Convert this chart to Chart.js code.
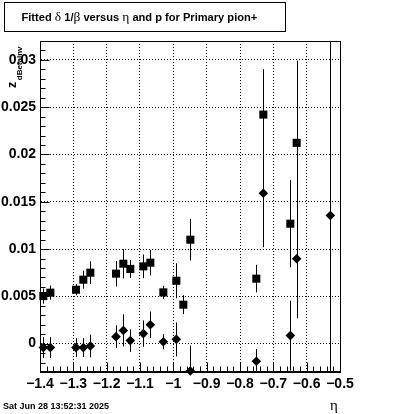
<!DOCTYPE html>
<html><head><meta charset="utf-8">
<script src="https://cdn.jsdelivr.net/npm/chart.js@4/dist/chart.umd.min.js"></script>
<style>html,body{margin:0;padding:0;background:#fff}#wrap{width:400px;height:414px;position:relative}</style>
</head><body><div id="wrap"><canvas id="c" width="400" height="414"></canvas></div>
<script>
// ---- data ----
const etaSquares = [-1.390,-1.369,-1.292,-1.270,-1.249,-1.172,-1.150,-1.129,-1.090,-1.069,-1.030,-0.991,-0.970,-0.949,-0.751,-0.730,-0.649,-0.630];
const zSquares   = [0.00503,0.00539,0.00570,0.00676,0.00750,0.00740,0.00845,0.00790,0.00817,0.00856,0.00542,0.00665,0.00412,0.01099,0.00687,0.02422,0.01268,0.02123];
const errSquares = [0.0008,0.00075,0.0006,0.00095,0.0012,0.00135,0.00155,0.00095,0.00125,0.00135,0.0007,0.00185,0.0010,0.0022,0.00146,0.0048,0.0046,0.0087];
const etaDiamonds = [-1.390,-1.369,-1.292,-1.270,-1.249,-1.172,-1.150,-1.129,-1.090,-1.069,-1.030,-0.991,-0.949,-0.751,-0.730,-0.649,-0.630,-0.529];
const zDiamonds   = [-0.00042,-0.00042,-0.00042,-0.00042,-0.00025,0.00074,0.0014,0.00032,0.00106,0.0020,0.0002,0.00045,-0.0029,-0.00187,0.0159,0.00085,0.00898,0.01355];
const errDiamonds = [0.0011,0.0011,0.0010,0.0010,0.0012,0.0012,0.0017,0.0012,0.0014,0.0014,0.0008,0.0018,0.0027,0.0013,0.0057,0.0037,0.0063,0.030];
const xTickValues = [-1.4,-1.3,-1.2,-1.1,-1.0,-0.9,-0.8,-0.7,-0.6,-0.5];
const xTickLabels = ['\u22121.4','\u22121.3','\u22121.2','\u22121.1','\u22121','\u22120.9','\u22120.8','\u22120.7','\u22120.6','\u22120.5'];
const yTickValues = [0,0.005,0.01,0.015,0.02,0.025,0.03];
const yTickLabels = ['0','0.005','0.01','0.015','0.02','0.025','0.03'];
const titleParts = [['Fitted ','b'],['\u03b4','g'],[' 1/','b'],['\u03b2','g'],[' versus ','b'],['\u03b7','g'],[' and p for Primary pion+','b']];
const xTitle = '\u03b7';
const yTitleMain = 'z';
const yTitleSub = 'dBetaInv';
const dateText = 'Sat Jun 28 13:52:31 2025';

const X_MIN = -1.4, X_MAX = -0.5, Y_MIN = -0.003, Y_MAX = 0.032;
const SANS = "'Liberation Sans', Arial, sans-serif";
const SERIF = "'Liberation Serif', 'DejaVu Serif', serif";

function mkPoints(xs, ys){ return xs.map((x,i)=>({x:x, y:ys[i]})); }

const errorBars = {
  id:'errorBars',
  beforeDatasetsDraw(chart){
    const ctx = chart.ctx, ca = chart.chartArea, ys = chart.scales.y;
    const errs = [errSquares, errDiamonds], vals = [zSquares, zDiamonds];
    ctx.save();
    ctx.beginPath(); ctx.rect(ca.left, ca.top, ca.right-ca.left, ca.bottom-ca.top); ctx.clip();
    ctx.strokeStyle = '#000'; ctx.lineWidth = 1;
    for (let d=0; d<2; d++){
      const meta = chart.getDatasetMeta(d);
      meta.data.forEach((pt,i)=>{
        const x = Math.round(pt.x)+0.5;
        const y1 = ys.getPixelForValue(vals[d][i]-errs[d][i]);
        const y2 = ys.getPixelForValue(vals[d][i]+errs[d][i]);
        ctx.beginPath(); ctx.moveTo(x,y1); ctx.lineTo(x,y2); ctx.stroke();
      });
    }
    ctx.restore();
  }
};

const frameAndText = {
  id:'frameAndText',
  afterDraw(chart){
    const ctx = chart.ctx, ca = chart.chartArea, xs = chart.scales.x, ys = chart.scales.y;
    ctx.save();
    ctx.strokeStyle = '#000'; ctx.lineWidth = 1;
    const L = Math.round(ca.left)+0.5, R = Math.round(ca.right)+0.5, T = Math.round(ca.top)+0.5, B = Math.round(ca.bottom)-0.5;
    ctx.strokeRect(L, T, R-L, B-T);
    // x ticks (major + minor) inside frame
    ctx.beginPath();
    for (let k=0; k<=45; k++){
      const v = X_MIN + k*0.02;
      const px = Math.round(xs.getPixelForValue(v))+0.5;
      const len = (k%5===0) ? 9 : 5;
      ctx.moveTo(px, B); ctx.lineTo(px, B-len);
    }
    // y ticks
    for (let k=-3; k<=31; k++){
      const v = k*0.001;
      const py = Math.round(ys.getPixelForValue(v))+0.5;
      const len = (k%5===0) ? 9 : 5;
      ctx.moveTo(L, py); ctx.lineTo(L+len, py);
    }
    ctx.stroke();

    // title box
    ctx.fillStyle = '#fff';
    ctx.fillRect(4.5, 2.5, 281, 29);
    ctx.strokeRect(4.5, 2.5, 281, 29);
    ctx.fillStyle = '#000';
    ctx.textBaseline = 'alphabetic'; ctx.textAlign = 'left';
    let tx = 21.5;
    titleParts.forEach(([s,t])=>{
      ctx.font = t==='b' ? "bold 11.1px "+SANS : "13.5px "+SERIF;
      ctx.fillText(s, tx, 20.5);
      tx += ctx.measureText(s).width;
    });

    // y axis title (rotated)
    ctx.save();
    ctx.translate(15.5, 88);
    ctx.rotate(-Math.PI/2);
    ctx.font = "bold 12.5px "+SANS;
    ctx.fillText(yTitleMain, 0, 0);
    const zw = ctx.measureText(yTitleMain).width;
    ctx.font = "bold 8px "+SANS;
    ctx.fillText(yTitleSub, zw+1.5, 6.5);
    ctx.restore();

    // x axis title
    ctx.font = "15px "+SERIF;
    ctx.fillText(xTitle, 330, 409.5);

    // date
    ctx.font = "bold 9px "+SANS;
    ctx.fillText(dateText, 3, 409);
    ctx.restore();
  }
};

new Chart(document.getElementById('c'), {
  type:'scatter',
  data:{ datasets:[
    { label:'squares', data: mkPoints(etaSquares, zSquares), pointStyle:'rect', pointRadius:5.7, pointHoverRadius:5.7, backgroundColor:'#000', borderColor:'#000', borderWidth:0, clip:false },
    { label:'diamonds', data: mkPoints(etaDiamonds, zDiamonds), pointStyle:'rectRot', pointRadius:4.8, pointHoverRadius:4.8, backgroundColor:'#000', borderColor:'#000', borderWidth:0, clip:false }
  ]},
  options:{
    responsive:false, animation:false, devicePixelRatio:1,
    events:[],
    layout:{ padding:{ left:0, right:60, top:41, bottom:0 } },
    plugins:{ legend:{display:false}, tooltip:{enabled:false}, title:{display:false} },
    scales:{
      x:{
        type:'linear', min:X_MIN, max:X_MAX,
        afterBuildTicks:(s)=>{ s.ticks = xTickValues.map(v=>({value:v})); },
        afterFit:(s)=>{ s.height = 42; },
        ticks:{ autoSkip:false, maxRotation:0, padding:4, color:'#000', font:{ family:SANS, size:14, weight:'bold' },
          callback:(v)=>{ const i = xTickValues.findIndex(t=>Math.abs(t-v)<1e-6); return i>=0 ? xTickLabels[i] : ''; } },
        grid:{ color:'#000', lineWidth:1, drawTicks:false },
        border:{ display:true, color:'#000', width:1, dash:[1,2] }
      },
      y:{
        type:'linear', min:Y_MIN, max:Y_MAX,
        afterBuildTicks:(s)=>{ s.ticks = yTickValues.map(v=>({value:v})); },
        afterFit:(s)=>{ s.width = 40; },
        ticks:{ padding:4, color:'#000', font:{ family:SANS, size:14, weight:'bold' },
          callback:(v)=>{ const i = yTickValues.findIndex(t=>Math.abs(t-v)<1e-9); return i>=0 ? yTickLabels[i] : ''; } },
        grid:{ color:'#000', lineWidth:1, drawTicks:false },
        border:{ display:true, color:'#000', width:1, dash:[1,2] }
      }
    }
  },
  plugins:[errorBars, frameAndText]
});
</script></body></html>
